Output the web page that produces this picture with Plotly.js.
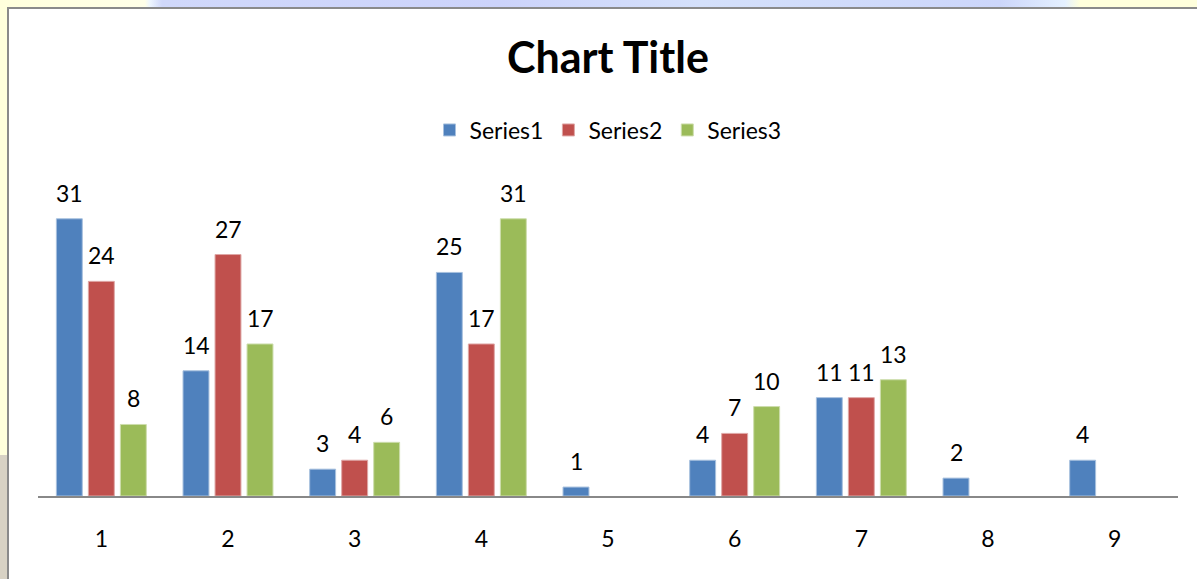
<!DOCTYPE html>
<html>
<head>
<meta charset="utf-8">
<script src="https://cdn.plot.ly/plotly-3.0.1.min.js"></script>
<style>
  html, body { margin: 0; padding: 0; }
  body { width: 1197px; height: 579px; overflow: hidden; position: relative;
         background: linear-gradient(to bottom, #FFFFDC 0px, #FFFFDC 455px, #D8D2C4 455px, #D8D2C4 579px); }
  #topstrip { position: absolute; left: 0; top: 0; width: 1197px; height: 7px;
         background: linear-gradient(to right, #FFFFDC 0px, #FFFFE8 145px, #EEF6FF 150px, #D0D8FA 162px, #CCD3FA 500px, #D4E0FA 700px, #CCD6FA 1000px, #E4F0FF 1065px, #FFFFDC 1080px, #FFFFDC 1197px); }
  #frame { position: absolute; left: 7px; top: 7px; width: 1190px; height: 572px;
         background: #ffffff; border-left: 2px solid #8A8A8A; border-top: 2px solid #8A8A8A; box-sizing: border-box; }
  #chart { position: absolute; left: 0; top: 0; width: 1197px; height: 579px; }
</style>
</head>
<body>
<div id="topstrip"></div>
<div id="frame"></div>
<div id="chart"></div>
<script>
const categories = [1, 2, 3, 4, 5, 6, 7, 8, 9];
const tickLabels = ['1', '2', '3', '4', '5', '6', '7', '8', '9'];
const seriesNames = ['Series1', 'Series2', 'Series3'];
const series1 = [31, 14, 3, 25, 1, 4, 11, 2, 4];
const series2 = [24, 27, 4, 17, null, 7, 11, null, null];
const series3 = [8, 17, 6, 31, null, 10, 13, null, null];
const colors = ['#4F81BD', '#C0504D', '#9BBB59'];
const edgeColors = ['#A7C0DE', '#DFA7A6', '#CDDDAC'];

const FONT = 'Lato, "Open Sans", sans-serif';
const allSeries = [series1, series2, series3];

const traces = allSeries.map((vals, i) => ({
  type: 'bar',
  name: seriesNames[i],
  x: categories,
  y: vals,
  marker: { color: colors[i], line: { color: edgeColors[i], width: 1 } },
  hoverinfo: 'skip'
}));

const slotPx = 32;
const annotations = [];
allSeries.forEach((vals, i) => {
  vals.forEach((v, j) => {
    if (v === null) return;
    annotations.push({
      x: categories[j], y: v, xref: 'x', yref: 'y',
      text: String(v), showarrow: false,
      xshift: (i - 1) * slotPx, yshift: 26,
      yanchor: 'middle', xanchor: 'center',
      font: { family: FONT, size: 23, color: '#000000' }
    });
  });
});

const layout = {
  width: 1197, height: 579,
  paper_bgcolor: 'rgba(0,0,0,0)', plot_bgcolor: 'rgba(0,0,0,0)',
  margin: { l: 38, r: 19, t: 183, b: 83, pad: 0 },
  barmode: 'group', bargap: 0.242, bargroupgap: 0.19,
  title: { text: '<b>Chart Title</b>', x: 0.5, xref: 'paper', xanchor: 'center', y: 1 - 58 / 579, yref: 'container', yanchor: 'middle',
           font: { family: FONT, size: 43, color: '#000000' } },
  showlegend: true,
  legend: { orientation: 'h', x: 0.5, xanchor: 'center', xref: 'paper', y: 1 - 130 / 579, yref: 'container', yanchor: 'middle',
            font: { family: FONT, size: 23, color: '#000000' }, itemwidth: 30, bgcolor: 'rgba(0,0,0,0)' },
  xaxis: { range: [0.5, 9.5], tickvals: categories, ticktext: tickLabels, showgrid: false, zeroline: false,
           showline: true, linecolor: '#888888', linewidth: 2,
           ticks: 'outside', ticklen: 21, tickcolor: 'rgba(0,0,0,0)',
           tickfont: { family: FONT, size: 23, color: '#000000' }, fixedrange: true },
  yaxis: { range: [0, 35], visible: false, showgrid: false, zeroline: false, fixedrange: true },
  annotations: annotations
};

Plotly.newPlot('chart', traces, layout, { displayModeBar: false, staticPlot: true });
</script>
</body>
</html>
